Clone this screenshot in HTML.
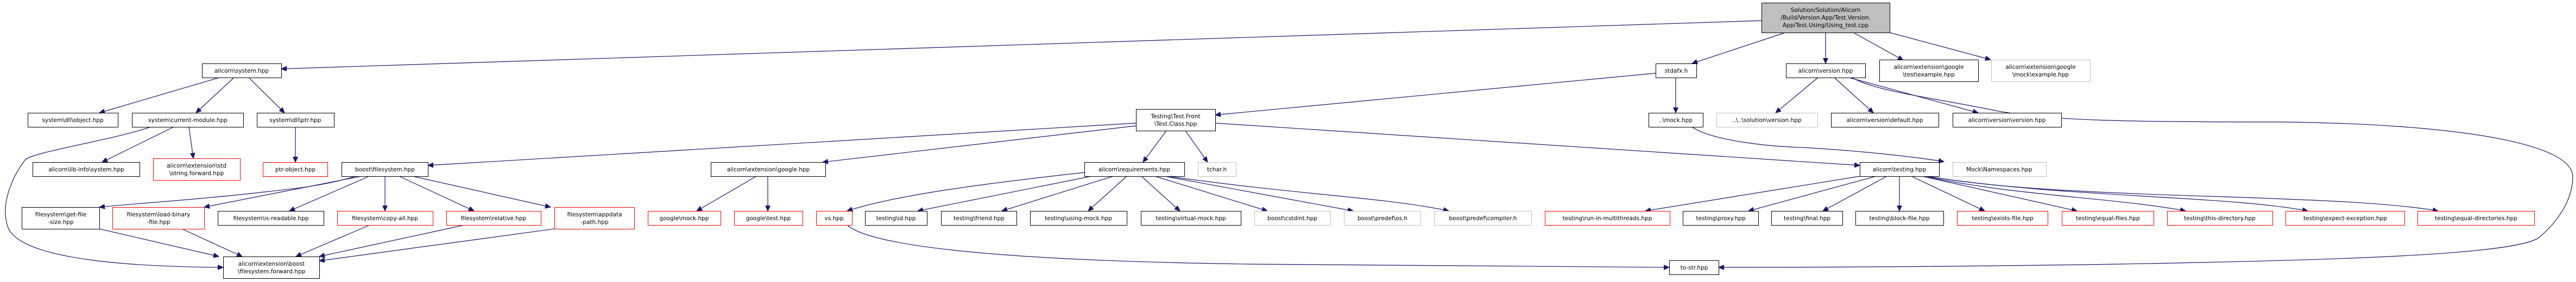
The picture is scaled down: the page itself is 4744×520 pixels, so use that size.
<!DOCTYPE html>
<html><head><meta charset="utf-8"><style>
html,body{margin:0;padding:0;background:#fff;}
svg{display:block;}
text{font-family:"DejaVu Sans","Liberation Sans",sans-serif;font-size:10.5px;fill:#000;}
.e{fill:none;stroke:#191970;stroke-width:1.2;}
.b{fill:#fff;stroke:#000;stroke-width:1;}
.r{fill:#fff;stroke:#ff0000;stroke-width:1;}
.g{fill:#fff;stroke:#bfbfbf;stroke-width:1;}
</style></head><body>
<svg width="4744" height="520" viewBox="0 0 4744 520" xmlns="http://www.w3.org/2000/svg">
<defs><marker id="a" markerUnits="userSpaceOnUse" markerWidth="11" markerHeight="9" refX="10" refY="4.5" orient="auto"><path d="M0,0 L10,4.5 L0,9 z" fill="#191970" stroke="#191970"/></marker></defs>
<g marker-end="url(#a)">
<path class="e" d="M3245,38 L518,127"/>
<path class="e" d="M3285,61 L3116,117"/>
<path class="e" d="M3362,61 L3362,117"/>
<path class="e" d="M3415,61 L3505,111"/>
<path class="e" d="M3480,60 L3666,110"/>
<path class="e" d="M3049,135 L2238,212"/>
<path class="e" d="M3086,143 L3086,208"/>
<path class="e" d="M3348,143 L3270,208"/>
<path class="e" d="M3378,143 L3450,208"/>
<path class="e" d="M3405,143 L3643,208"/>
<path class="e" d="M3410,143 C3460,170 3560,180 3680,205 C3780,222 3900,225 4200,225 C4500,228 4738,260 4738,326 C4738,360 4720,400 4677,437 C4640,470 4300,480 3900,487 C3600,492 3300,493 3165,493"/>
<path class="e" d="M3116,234 C3150,258 3250,270 3320,272 C3430,278 3530,290 3580,298"/>
<path class="e" d="M2092,227 L788,305"/>
<path class="e" d="M2092,232 L1515,299"/>
<path class="e" d="M2148,241 L2105,299"/>
<path class="e" d="M2183,241 L2224,299"/>
<path class="e" d="M2238,227 L3425,305"/>
<path class="e" d="M404,143 L183,208"/>
<path class="e" d="M431,143 L361,208"/>
<path class="e" d="M458,143 L524,208"/>
<path class="e" d="M320,234 L188,299"/>
<path class="e" d="M348,234 L356,292"/>
<path class="e" d="M278,234 C200,260 60,280 46,295 C20,330 0,380 15,420 C40,480 250,492 411,493"/>
<path class="e" d="M544,234 L544,299"/>
<path class="e" d="M655,325 C590,345 520,350 460,357 C340,370 250,375 183,382"/>
<path class="e" d="M665,325 L376,382"/>
<path class="e" d="M680,325 L533,389"/>
<path class="e" d="M709,325 L709,389"/>
<path class="e" d="M735,325 L873,389"/>
<path class="e" d="M760,325 L1014,382"/>
<path class="e" d="M183,422 L403,473"/>
<path class="e" d="M337,423 L446,473"/>
<path class="e" d="M681,415 L545,473"/>
<path class="e" d="M855,415 L588,473"/>
<path class="e" d="M1021,422 L588,481"/>
<path class="e" d="M1393,325 L1283,389"/>
<path class="e" d="M1414,325 L1414,389"/>
<path class="e" d="M1997,318 C1800,340 1650,360 1560,389"/>
<path class="e" d="M2010,325 L1690,389"/>
<path class="e" d="M2050,325 L1845,389"/>
<path class="e" d="M2075,325 L2004,389"/>
<path class="e" d="M2102,325 L2173,389"/>
<path class="e" d="M2127,325 L2334,389"/>
<path class="e" d="M2145,325 L2492,389"/>
<path class="e" d="M2150,325 C2400,360 2560,365 2668,389"/>
<path class="e" d="M1560,415 C1600,450 1800,480 2300,487 C2700,492 2950,493 3074,493"/>
<path class="e" d="M3425,325 L3030,389"/>
<path class="e" d="M3455,325 L3220,389"/>
<path class="e" d="M3475,325 L3357,389"/>
<path class="e" d="M3498,325 L3498,389"/>
<path class="e" d="M3520,325 L3655,389"/>
<path class="e" d="M3540,325 L3825,389"/>
<path class="e" d="M3545,325 C3700,360 3900,365 4025,389"/>
<path class="e" d="M3548,325 C3800,365 4100,360 4250,389"/>
<path class="e" d="M3550,325 C3800,370 4300,355 4490,389"/>
</g>
<rect class="g" x="3244.5" y="5.5" width="236" height="55" style="fill:#bfbfbf;stroke:#000"/>
<text x="3362" y="22" text-anchor="middle">Solution/Solution/Alicorn</text>
<text x="3362" y="36" text-anchor="middle">/Build/Version.App/Test.Version.</text>
<text x="3362" y="50" text-anchor="middle">App/Test.Using/Using_test.cpp</text>

<rect class="b" x="372.5" y="117.5" width="146" height="26"/><text x="445" y="134" text-anchor="middle">alicorn\system.hpp</text>
<rect class="b" x="3049.5" y="117.5" width="75" height="26"/><text x="3087" y="134" text-anchor="middle">stdafx.h</text>
<rect class="b" x="3289.5" y="117.5" width="146" height="26"/><text x="3362" y="134" text-anchor="middle">alicorn\version.hpp</text>
<rect class="b" x="3461.5" y="110.5" width="182" height="40"/><text x="3552" y="127" text-anchor="middle">alicorn\extension\google</text><text x="3552" y="141" text-anchor="middle">\test\example.hpp</text>
<rect class="g" x="3667.5" y="110.5" width="182" height="40"/><text x="3758" y="127" text-anchor="middle">alicorn\extension\google</text><text x="3758" y="141" text-anchor="middle">\mock\example.hpp</text>

<rect class="b" x="51.5" y="208.5" width="166" height="26"/><text x="134" y="225" text-anchor="middle">system\dll\object.hpp</text>
<rect class="b" x="243.5" y="208.5" width="205" height="26"/><text x="346" y="225" text-anchor="middle">system\current-module.hpp</text>
<rect class="b" x="473.5" y="208.5" width="142" height="26"/><text x="544" y="225" text-anchor="middle">system\dll\ptr.hpp</text>
<rect class="b" x="2092.5" y="201.5" width="146" height="40"/><text x="2165" y="218" text-anchor="middle">Testing\Test.Front</text><text x="2165" y="232" text-anchor="middle">\Test.Class.hpp</text>
<rect class="b" x="3036.5" y="208.5" width="100" height="26"/><text x="3086" y="225" text-anchor="middle">..\mock.hpp</text>
<rect class="g" x="3161.5" y="208.5" width="186" height="26"/><text x="3254" y="225" text-anchor="middle">..\..\solution\version.hpp</text>
<rect class="b" x="3372.5" y="208.5" width="198" height="26"/><text x="3471" y="225" text-anchor="middle">alicorn\version\default.hpp</text>
<rect class="b" x="3596.5" y="208.5" width="200" height="26"/><text x="3696" y="225" text-anchor="middle">alicorn\version\version.hpp</text>

<rect class="b" x="60.5" y="299.5" width="197" height="26"/><text x="159" y="316" text-anchor="middle">alicorn\lib-info\system.hpp</text>
<rect class="r" x="282.5" y="292.5" width="160" height="40"/><text x="362" y="309" text-anchor="middle">alicorn\extension\std</text><text x="362" y="323" text-anchor="middle">\string.forward.hpp</text>
<rect class="r" x="484.5" y="299.5" width="119" height="26"/><text x="544" y="316" text-anchor="middle">ptr-object.hpp</text>
<rect class="b" x="629.5" y="299.5" width="159" height="26"/><text x="709" y="316" text-anchor="middle">boost\filesystem.hpp</text>
<rect class="b" x="1309.5" y="299.5" width="211" height="26"/><text x="1415" y="316" text-anchor="middle">alicorn\extension\google.hpp</text>
<rect class="b" x="1997.5" y="299.5" width="184" height="26"/><text x="2089" y="316" text-anchor="middle">alicorn\requirements.hpp</text>
<rect class="g" x="2206.5" y="299.5" width="70" height="26"/><text x="2241" y="316" text-anchor="middle">tchar.h</text>
<rect class="b" x="3425.5" y="299.5" width="146" height="26"/><text x="3498" y="316" text-anchor="middle">alicorn\testing.hpp</text>
<rect class="g" x="3596.5" y="299.5" width="172" height="26"/><text x="3682" y="316" text-anchor="middle">Mock\Namespaces.hpp</text>

<rect class="b" x="40.5" y="382.5" width="143" height="40"/><text x="112" y="399" text-anchor="middle">filesystem\get-file</text><text x="112" y="413" text-anchor="middle">-size.hpp</text>
<rect class="r" x="207.5" y="382.5" width="169" height="40"/><text x="292" y="399" text-anchor="middle">filesystem\load-binary</text><text x="292" y="413" text-anchor="middle">-file.hpp</text>
<rect class="b" x="401.5" y="389.5" width="195" height="26"/><text x="499" y="406" text-anchor="middle">filesystem\is-readable.hpp</text>
<rect class="r" x="621.5" y="389.5" width="176" height="26"/><text x="709" y="406" text-anchor="middle">filesystem\copy-all.hpp</text>
<rect class="r" x="822.5" y="389.5" width="174" height="26"/><text x="909" y="406" text-anchor="middle">filesystem\relative.hpp</text>
<rect class="r" x="1021.5" y="382.5" width="147" height="40"/><text x="1095" y="399" text-anchor="middle">filesystem\appdata</text><text x="1095" y="413" text-anchor="middle">-path.hpp</text>
<rect class="r" x="1193.5" y="389.5" width="134" height="26"/><text x="1260" y="406" text-anchor="middle">google\mock.hpp</text>
<rect class="r" x="1352.5" y="389.5" width="126" height="26"/><text x="1415" y="406" text-anchor="middle">google\test.hpp</text>
<rect class="r" x="1503.5" y="389.5" width="66" height="26"/><text x="1536" y="406" text-anchor="middle">vs.hpp</text>
<rect class="b" x="1593.5" y="389.5" width="114" height="26"/><text x="1650" y="406" text-anchor="middle">testing\id.hpp</text>
<rect class="b" x="1733.5" y="389.5" width="139" height="26"/><text x="1803" y="406" text-anchor="middle">testing\friend.hpp</text>
<rect class="b" x="1897.5" y="389.5" width="178" height="26"/><text x="1986" y="406" text-anchor="middle">testing\using-mock.hpp</text>
<rect class="b" x="2101.5" y="389.5" width="184" height="26"/><text x="2193" y="406" text-anchor="middle">testing\virtual-mock.hpp</text>
<rect class="g" x="2310.5" y="389.5" width="140" height="26"/><text x="2380" y="406" text-anchor="middle">boost\cstdint.hpp</text>
<rect class="g" x="2475.5" y="389.5" width="141" height="26"/><text x="2546" y="406" text-anchor="middle">boost\predef\os.h</text>
<rect class="g" x="2641.5" y="389.5" width="179" height="26"/><text x="2731" y="406" text-anchor="middle">boost\predef\compiler.h</text>
<rect class="r" x="2845.5" y="389.5" width="230" height="26"/><text x="2960" y="406" text-anchor="middle">testing\run-in-multithreads.hpp</text>
<rect class="b" x="3099.5" y="389.5" width="139" height="26"/><text x="3169" y="406" text-anchor="middle">testing\proxy.hpp</text>
<rect class="b" x="3262.5" y="389.5" width="131" height="26"/><text x="3328" y="406" text-anchor="middle">testing\final.hpp</text>
<rect class="b" x="3417.5" y="389.5" width="162" height="26"/><text x="3498" y="406" text-anchor="middle">testing\block-file.hpp</text>
<rect class="r" x="3604.5" y="389.5" width="167" height="26"/><text x="3688" y="406" text-anchor="middle">testing\exists-file.hpp</text>
<rect class="r" x="3797.5" y="389.5" width="169" height="26"/><text x="3882" y="406" text-anchor="middle">testing\equal-files.hpp</text>
<rect class="r" x="3991.5" y="389.5" width="194" height="26"/><text x="4088" y="406" text-anchor="middle">testing\this-directory.hpp</text>
<rect class="r" x="4209.5" y="389.5" width="219" height="26"/><text x="4319" y="406" text-anchor="middle">testing\expect-exception.hpp</text>
<rect class="r" x="4452.5" y="389.5" width="215" height="26"/><text x="4560" y="406" text-anchor="middle">testing\equal-directories.hpp</text>

<rect class="b" x="411.5" y="473.5" width="177" height="40"/><text x="500" y="490" text-anchor="middle">alicorn\extension\boost</text><text x="500" y="504" text-anchor="middle">\filesystem.forward.hpp</text>
<rect class="b" x="3074.5" y="480.5" width="91" height="26"/><text x="3120" y="497" text-anchor="middle">to-str.hpp</text>
</svg>
</body></html>
